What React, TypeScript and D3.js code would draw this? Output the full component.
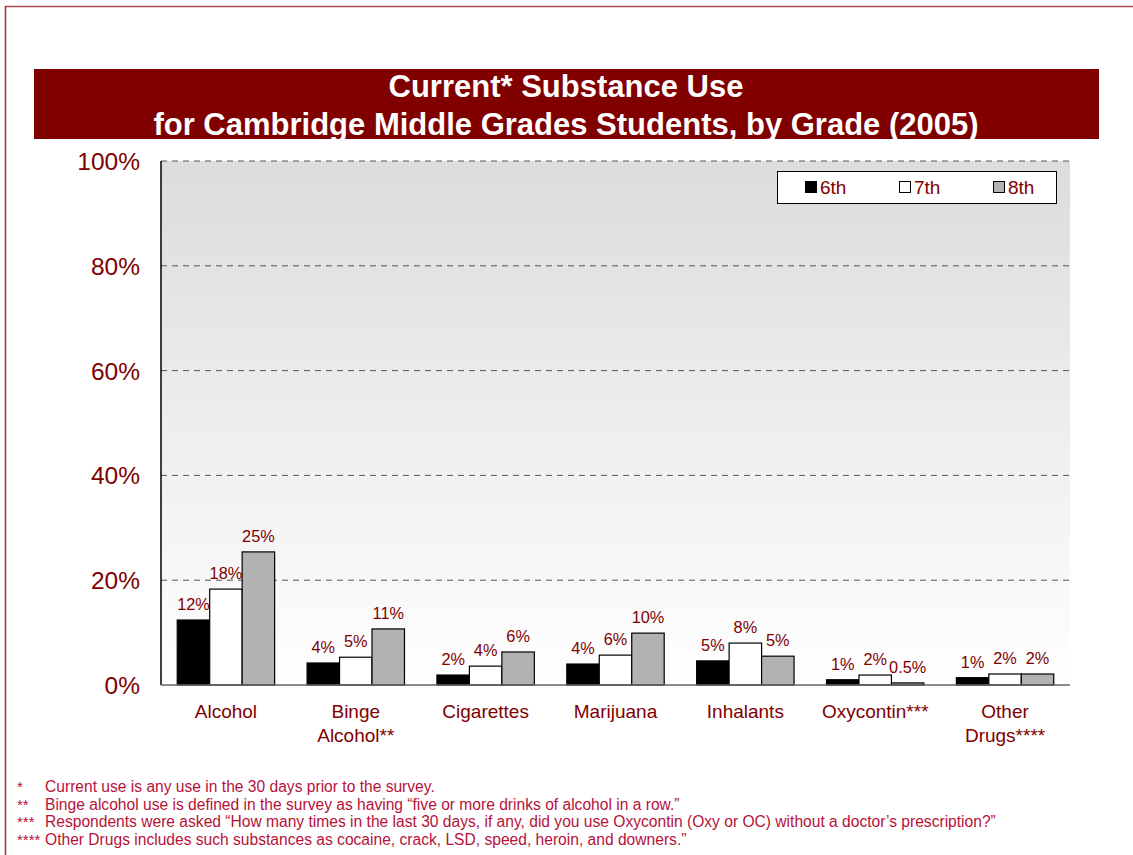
import React from "react";
import * as d3 from "d3";

const categories = ["Alcohol", "Binge\nAlcohol**", "Cigarettes", "Marijuana", "Inhalants", "Oxycontin***", "Other\nDrugs****"];
const seriesNames = ["6th", "7th", "8th"];
const grade6 = [12.4, 4.2, 1.9, 4.0, 4.6, 1.0, 1.4];
const grade7 = [18.3, 5.3, 3.6, 5.7, 8.0, 1.9, 2.1];
const grade8 = [25.4, 10.7, 6.3, 9.9, 5.5, 0.4, 2.1];
const labels6 = ["12%", "4%", "2%", "4%", "5%", "1%", "1%"];
const labels7 = ["18%", "5%", "4%", "6%", "8%", "2%", "2%"];
const labels8 = ["25%", "11%", "6%", "10%", "5%", "0.5%", "2%"];
const yTicks = [0, 20, 40, 60, 80, 100];
const titleLines = ["Current* Substance Use", "for Cambridge Middle Grades Students, by Grade (2005)"];
const footnotes: [string, string][] = [
  ["*", "Current use is any use in the 30 days prior to the survey."],
  ["**", "Binge alcohol use is defined in the survey as having \u201cfive or more drinks of alcohol in a row.\u201d"],
  ["***", "Respondents were asked \u201cHow many times in the last 30 days, if any, did you use Oxycontin (Oxy or OC) without a doctor\u2019s prescription?\u201d"],
  ["****", "Other Drugs includes such substances as cocaine, crack, LSD, speed, heroin, and downers.\u201d"],
];

const fills = ["#000000", "#ffffff", "#b2b2b2"];
const dark = "#800000";
const fnColor = "#b5123a";
const font = "Arial, 'Liberation Sans', sans-serif";

export default function App() {
  const W = 1133, H = 855;
  const left = 161, right = 1070, top = 161, bottom = 685;
  const x = d3.scaleBand().domain(categories).range([left, right]).paddingInner(0.25).paddingOuter(0.125);
  const y = d3.scaleLinear().domain([0, 100]).range([bottom, top]);
  const sub = d3.scaleBand().domain(seriesNames).range([0, x.bandwidth()]);
  const series = [grade6, grade7, grade8];
  const labs = [labels6, labels7, labels8];

  return (
    <svg width={W} height={H} style={{ position: "absolute", left: 0, top: 0, fontFamily: font }}>
      <defs>
        <linearGradient id="bg" x1="0" y1="0" x2="0" y2="1">
          <stop offset="0" stopColor="#dcdcdc" />
          <stop offset="1" stopColor="#ffffff" />
        </linearGradient>
      </defs>
      <rect x={0} y={0} width={W} height={H} fill="#fff" />
      <line x1={5} y1={6.5} x2={W} y2={6.5} stroke="#b04848" strokeWidth={1.5} />
      <line x1={5.5} y1={6} x2={5.5} y2={H} stroke="#a03030" strokeWidth={1.5} />
      <rect x={34} y={69} width={1065} height={70} fill="#800000" />
      {titleLines.map((t, i) => (
        <text key={i} x={566} y={97 + i * 38} textAnchor="middle" fill="#fff" fontSize={31} fontWeight="bold">{t}</text>
      ))}
      <rect x={left} y={top} width={right - left} height={bottom - top} fill="url(#bg)" />
      {yTicks.filter((t) => t > 0).map((t) => (
        <line key={t} x1={left} x2={right} y1={y(t)} y2={y(t)} stroke="#555" strokeDasharray="6,5" strokeWidth={1} />
      ))}
      {yTicks.map((t) => (
        <text key={t} x={140} y={y(t) + 9} textAnchor="end" fill={dark} fontSize={24.5}>{t}%</text>
      ))}
      {categories.map((c, ci) => (
        <g key={c} transform={`translate(${x(c)},0)`}>
          {series.map((s, si) => (
            <g key={si}>
              <rect x={sub(seriesNames[si])!} y={y(s[ci])} width={sub.bandwidth()} height={bottom - y(s[ci])} fill={fills[si]} stroke="#000" strokeWidth={1.2} />
              <text x={sub(seriesNames[si])! + sub.bandwidth() / 2} y={y(s[ci]) - 10} textAnchor="middle" fill={dark} fontSize={16.3}>{labs[si][ci]}</text>
            </g>
          ))}
          {c.split("\n").map((line, li) => (
            <text key={li} x={x.bandwidth() / 2} y={718 + li * 24} textAnchor="middle" fill={dark} fontSize={19}>{line}</text>
          ))}
        </g>
      ))}
      <line x1={left} x2={left} y1={top} y2={bottom} stroke="#000" strokeWidth={1.5} />
      <line x1={left} x2={right} y1={bottom} y2={bottom} stroke="#666" strokeWidth={1.5} />
      <rect x={777.5} y={171.5} width={279} height={32} fill="#fff" stroke="#000" strokeWidth={1} />
      {seriesNames.map((n, i) => (
        <g key={n} transform={`translate(${805 + i * 94},0)`}>
          <rect x={0.5} y={181.5} width={11} height={11} fill={fills[i]} stroke="#000" strokeWidth={1} />
          <text x={15} y={194} fill={dark} fontSize={19}>{n}</text>
        </g>
      ))}
      {footnotes.map(([m, t], i) => (
        <g key={i}>
          <text x={17} y={792 + i * 17.7} fill={fnColor} fontSize={15}>{m}</text>
          <text x={45} y={792 + i * 17.7} fill={fnColor} fontSize={15.6}>{t}</text>
        </g>
      ))}
    </svg>
  );
}
